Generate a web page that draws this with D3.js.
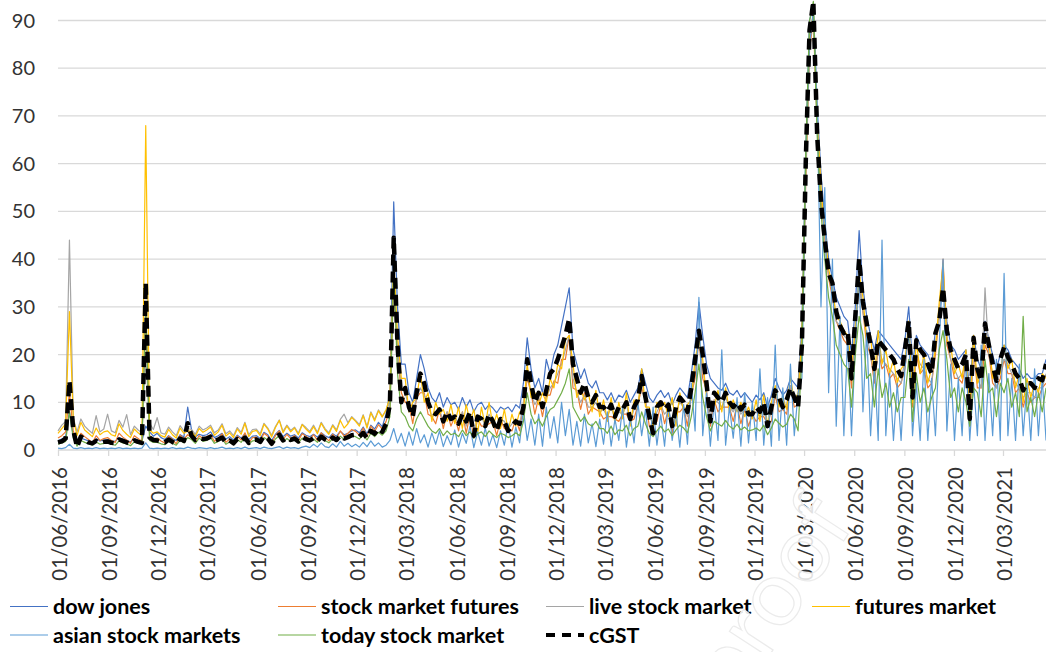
<!DOCTYPE html>
<html lang="en">
<head>
<meta charset="UTF-8">
<title>Search interest and cGST</title>
<script src="https://d3js.org/d3.v7.min.js"></script>
<style>
  body { margin: 0; background: #fff; }
  text { font-family: Lato, "Open Sans", sans-serif; }
</style>
</head>
<body>
<div id="chart"></div>
<script>
// weekly observations, first week = 01/06/2016
var startDate = "2016-06-01";
var stepDays = 7;

var tickLabels = ["01/06/2016","01/09/2016","01/12/2016","01/03/2017","01/06/2017","01/09/2017",
  "01/12/2017","01/03/2018","01/06/2018","01/09/2018","01/12/2018","01/03/2019","01/06/2019",
  "01/09/2019","01/12/2019","01/03/2020","01/06/2020","01/09/2020","01/12/2020","01/03/2021"];

var yTicks = [0, 10, 20, 30, 40, 50, 60, 70, 80, 90];

var dowJones = [
  2.0,2.3,2.8,8,3,1.8,2.5,2.2,1.9,1.7,2.4,1.9,2.1,
  2.2,1.9,1.8,2.6,2.3,2.0,1.7,2.4,2.1,1.9,5,3.8,2.9,
  3.5,2.6,2.2,3.0,2.4,2.0,3.2,2.7,9,4.2,2.8,3.3,3.0,
  3.2,3.8,2.6,3.0,3.5,2.3,2.8,2.1,3.1,2.5,3.4,2.2,2.9,
  3.0,2.4,3.7,3.2,2.0,3.3,4.1,2.8,3.5,2.9,3.2,2.5,3.6,
  3.1,2.8,3.3,2.7,3.6,3.0,2.6,3.4,2.9,3.9,3.2,3.5,4.0,
  4.2,3.6,4.8,3.4,5.2,4.4,5.8,4.9,7.5,12,52,30,18,
  18,12,10,15,20,17,13,11,10,12,9,11,9.5,
  10,8.5,11,9,10.5,8,9.5,10,8.5,9.5,8.8,7.8,9,
  8.5,9,8,9.5,8.8,14,23.5,17,13,15,12,19,16,
  20,22,26,30,34,21,18,15,17,14,13,14.5,12,
  12,10.5,12,10,11.5,11,12.5,10,11.5,13,17,14,11,
  10,11.5,12.5,11,12,9.5,11.5,13,12,11,16,22,31,
  24,18,15,14,13,12.5,14,12,11.5,12.5,11,12,11,
  10,11.5,10.5,12,9,11.5,15,13,11.5,12.5,15,14,13,
  26,62,90,93,72,58,48,40,36,32,30,28,27,
  20,30,46,34,28,24,21,25,24,23,22,21,20,
  19,23,30,18,24,22,21,20,18,25,28,35,27,
  22,21,19,20,21,12,24,19,17,27,23,20,17,
  20,22,21,19,18,17,15,16,15,15,16,16,19
];

var stockMarketFutures = [
  2.5,3.0,3.8,12,4.0,1.5,3.5,2.8,2.2,1.5,3.0,2.0,2.4,
  2.6,2.0,1.6,3.5,2.7,2.1,1.4,3.0,2.4,1.8,30,3.0,2.4,
  2.5,1.9,1.5,2.9,2.2,1.3,3.1,2.3,3.2,2.6,1.7,3.0,2.4,
  2.8,3.2,1.8,2.5,3.4,1.6,2.3,1.3,2.9,2.1,3.6,1.5,2.6,
  2.7,1.8,3.5,2.9,1.4,3.0,4.0,2.2,3.3,2.4,3.0,1.9,3.4,
  2.9,2.2,3.2,2.0,3.6,2.7,1.9,3.3,2.4,4.0,2.9,3.5,4.3,
  3.9,3.1,4.6,2.8,5.0,3.9,5.3,4.4,6.0,9,36,20,12,
  10,9.5,5.5,11,12,12,7.5,7,5.5,8.5,4.5,8,5,
  7,4,8,3.5,7.5,2.5,6.5,5,5,5.5,6,3,6.5,
  4.5,4.5,4,6.5,4,9.5,15,12,7.5,11,7,11.5,11.5,
  14.5,14,19,19,24,13,12.5,8.5,12,7.5,9,8.5,8,
  6.5,7,7,6.5,6,7.5,7.5,6,6.5,9.5,13,10.5,5,
  5.5,6,9.5,5.5,8.5,3.5,8,8,9,5,11.5,15,23,
  15,12.5,5,10.5,8,9,9,9,6,9.5,5.5,8.5,5,
  7.5,6,7,7,5.5,6,11.5,8,8.5,7.5,13.5,9,9.5,
  22,56,84,90,68,53,44,36,32,27,25,23,22,
  13,26,35,29,22,20,14,21,17,18,15,16,13,
  14,17,24,9,20,16,17,13,14,20,28,40,22,
  19,15,15,14,18,5,21,13,13,22,20,14,13,
  15,19,16,16,12,13,9,12,10,11,11,13,14
];

var liveStockMarket = [
  4.0,5.2,6.0,44,6.8,3.8,6.5,5.0,4.2,3.5,7.2,3.8,4.4,
  7.5,4.0,3.6,6.2,4.8,7.4,3.2,5.0,4.2,3.6,20,5.6,4.3,
  6.8,3.6,3.3,4.8,3.8,3.0,5.1,4.0,4.5,4.3,3.3,5.0,4.2,
  4.6,5.2,3.6,4.2,5.5,3.4,4.0,3.0,4.7,3.7,5.8,3.2,4.3,
  4.4,3.4,5.6,4.6,3.1,4.9,6.3,3.9,5.2,4.1,4.8,3.5,5.4,
  4.7,3.9,5.2,3.7,5.8,4.5,3.6,5.3,4.2,6.4,7.5,5.7,7.0,
  6.2,5.3,7.4,4.9,8.0,6.4,8.4,7.1,8.2,10,38,22,13,
  12,9,7.5,11,13,11.5,9.5,7,7.5,8.5,6,8,6.5,
  7,5.5,8,5,7.5,4,6.5,7,5,7.5,6,4.5,6.5,
  6,4.5,5.5,6.5,5.5,9.5,16,12,9.5,11,8.5,11,13,
  14,16,18,21,24,15,12,10,11.5,9,9,10,8,
  8.5,7,9,6.5,8,7.5,9.5,6,8.5,9.5,14.5,10,7,
  5.5,8,9.5,7.5,8.5,5.5,8,10,9,7,11.5,17,23,
  17,12,7,10.5,10,9,11,9,8,9.5,7.5,8.5,7,
  7.5,8,7,9,5.5,8,11.5,10,8.5,9.5,13.5,11,9.5,
  23,57,85,91,69,54,45,37,33,27,26,24,23,
  15,26,37,29,24,20,16,21,19,18,17,16,15,
  14,19,24,11,20,18,17,15,14,22,28,36,24,
  19,17,15,16,18,6.5,21,15,13,34,20,16,13,
  17,19,18,16,14,13,11,12,12,11,13,13,16
];

var futuresMarket = [
  3.5,4.5,5.5,29,6.5,3.0,5.8,4.2,3.5,2.8,4.6,3.2,3.8,
  4.0,3.2,2.9,5.5,4.1,3.3,2.6,4.4,3.6,3.0,68,4.2,3.5,
  3.8,3.0,2.7,4.3,3.2,2.5,4.6,3.5,4.0,3.9,2.8,4.5,3.7,
  4.2,4.8,3.1,3.8,5.2,2.9,3.6,2.6,4.4,3.3,5.6,2.8,3.9,
  4.1,3.0,5.4,4.4,2.7,4.7,6.2,3.6,5.0,3.8,4.6,3.2,5.3,
  4.4,3.6,4.9,3.4,5.6,4.2,3.3,5.1,3.9,6.2,4.6,5.5,6.8,
  6.0,5.0,7.2,4.6,7.8,6.1,8.2,6.9,8.5,11,40,24,15,
  15,8,10,11,16,10,12,6,10,7.5,8.5,6,9.5,
  5.5,9,4.5,9.5,6,8.5,3.5,9,5,10,5,7.5,4.5,
  8.5,4,7.5,5,8,8,18,11,12,9.5,12,10,15,
  13,18,17,23,24,18,11,13,10.5,12,8,12.5,7,
  10.5,6,11,5.5,10,6.5,12,5,10.5,8.5,17,9,9,
  4.5,10,8.5,10,7,11,5,12,8,9.5,10.5,19,23,
  19,11,10,9,12.5,8,13,8,10.5,8,10,7,9,
  6.5,10.5,6,11.5,5,10,13.5,9,11,8.5,15.5,10,12,
  24,58,86,92,70,55,46,38,34,28,27,25,24,
  18,25,37,32,23,24,15,25,18,21,16,19,14,
  17,18,27,10,23,16,20,14,17,21,31,39,23,
  22,16,18,15,21,8,24,14,16,24,23,15,16,
  16,22,17,19,13,16,10,15,11,14,12,16,15
];

var asianStockMarkets = [
  0.4,0.3,0.5,1.2,0.4,0.3,0.5,0.3,0.4,0.3,0.5,0.3,0.4,
  0.3,0.4,0.3,0.5,0.3,0.4,0.3,0.4,0.3,0.4,1.5,0.4,0.3,
  0.4,0.3,0.4,0.3,0.5,0.3,0.4,0.3,0.6,0.4,0.3,0.5,0.4,
  0.3,0.5,0.3,0.4,0.6,0.3,0.4,0.3,0.5,0.3,0.6,0.3,0.4,
  0.5,0.3,0.6,0.4,0.3,0.5,0.7,0.3,0.6,0.4,0.5,0.3,0.6,
  0.8,0.5,1.2,0.6,1.5,0.7,0.5,1.3,0.6,1.8,0.8,1.4,0.7,
  1.2,0.6,1.6,0.7,1.9,0.8,1.5,0.6,1.0,2.0,4.5,1.5,3.5,
  0.8,3.8,1.0,4.5,1.5,3.2,0.6,3.6,1.2,4.0,0.7,3.0,1.1,
  4.2,0.6,3.5,1.4,5.0,0.5,3.8,1.0,4.6,0.8,3.2,0.5,4.0,
  1.0,5.5,0.6,4.8,1.5,8.5,2.0,6.5,1.0,7.5,0.8,9,2.5,
  7,1.5,10,3,8.5,1.0,6,0.8,7.5,1.5,5.5,0.7,6.5,
  1.2,8,0.8,6.5,2,9,0.6,7,1.5,10,3,8.5,0.8,
  9,1,7.5,0.8,10,2,8,0.6,9.5,1.2,14,4,32,
  3,12,0.8,10,2,21,1,9,2.5,11,0.8,12,1.5,
  10,2,17,1,11,0.8,22,2,13,1,18,3,12,
  15,60,85,92,72,30,55,12,40,5,28,3,24,
  3,22,38,8,25,3,18,2,44,3,16,2,14,
  2,17,25,3,14,2,19,2,15,3,22,40,4,
  18,2,15,3,20,2,14,3,22,2,16,3,19,
  2,37,3,15,2,18,3,14,2,17,3,15,2
];

var todayStockMarket = [
  1.2,1.5,1.8,8,2.5,0.8,2.0,1.6,1.3,1.0,1.7,1.2,1.4,
  1.5,1.2,1.0,1.9,1.5,1.3,0.9,1.7,1.4,1.1,30,2.0,1.6,
  1.6,1.3,1.1,1.8,1.4,1.0,2.0,1.5,2.6,2.2,1.4,2.5,1.8,
  2.0,2.6,1.4,1.8,2.4,1.2,1.7,1.1,2.2,1.6,2.7,1.3,1.9,
  2.0,1.4,2.6,2.1,1.1,2.3,3.0,1.7,2.4,1.8,2.2,1.5,2.5,
  2.1,1.7,2.3,1.6,2.7,2.0,1.5,2.4,1.8,2.9,2.2,2.6,3.0,
  2.8,2.3,3.2,2.1,3.5,2.8,3.7,3.1,4.0,7,38,16,8,
  7,5,4,6.5,8,6.5,5,4,3.5,4.5,3,4,3.2,
  3.5,2.8,4.2,3,3.8,2.5,3.4,3.8,2.8,4,3.2,2.6,3.5,
  3.2,2.6,3,3.6,3,6,12,7.5,5.5,6.5,5,7,8.5,
  9,10.5,12,14,17,9,7.5,6,7,5.5,5,6,4.5,
  4.5,3.5,5,3.2,4.2,4,5.2,3,4.5,5,8,5.5,3.5,
  2.8,4,5,3.8,4.4,3,4.2,5.2,4.6,3.6,7,12,18,
  11,7,4,6,5.5,5,6.2,5,4.4,5.4,4.2,4.8,4,
  4.2,4.6,4,5.2,3.2,4.6,6.5,5.6,4.8,5.4,7.5,6.5,4,
  20,62,90,94,66,50,40,32,28,22,20,18,17,
  9,20,28,24,15,16,9,17,11,14,9,12,8,
  11,11,19,6,16,10,13,8,11,13,21,25,19,
  11,13,8,13,10,5,13,12,7,19,12,13,7,
  14,12,15,9,12,7,28,8,11,7,12,8,13
];

var cGST = [
  1.6,1.8,2.4,14.5,4.2,0.6,2.8,2.2,1.6,1.4,1.9,1.5,1.7,
  1.8,1.5,1.4,2.2,1.9,1.6,1.3,2.0,1.7,1.5,35,2.6,2.1,
  2.0,1.8,1.6,2.2,1.7,1.3,2.4,1.9,5.6,3.0,2.1,2.5,2.3,
  2.4,2.8,1.9,2.2,2.6,1.6,2.0,1.4,2.3,1.8,2.6,1.5,2.1,
  2.2,1.7,2.9,2.4,1.3,2.5,3.2,2.0,2.6,2.1,2.4,1.8,2.7,
  2.3,2.0,2.5,1.9,2.8,2.2,1.8,2.6,2.1,3.0,2.4,2.7,3.1,
  3.2,2.8,3.6,2.5,4.0,3.4,4.5,3.8,5.5,9.5,44.5,22,10,
  13,9,7,12,16,14,10,8,7.5,8.5,6,8,6.5,
  7,5.5,7.5,6,8,3,7,6.5,5,7.5,6,4,6.5,
  6,4,5,6,5.5,9,19,14,10,12,9,12.5,16,
  17,19,21.5,24,27.5,18,15,12,14,11,10,11.5,9,
  9,8,9.5,7,9,8.5,10,6.5,9,10.5,15.5,11,7,
  3.5,9,10,8.5,9.5,5,9,11,10,8,13,19,25,
  20,14,6,12,11,10,12,10,9,10,8.5,9.5,7.5,
  7.5,9,8,10,5,9,12.5,11,9,10.5,13,11,9,
  22,60,88,94,66,52,44,37,35,29,26,24.5,25,
  15,28,40,31,26.5,22,17,23,22,21,20,19,17,
  15.5,21,27,11,23,21,20,18,16,24.5,27,34,25,
  21,19,17,18,20,6.5,23.5,17,14.5,26.5,22,18,14.5,
  19,21.5,19.5,18,16,15,12.5,14,14,13,15,14.6,18
];

var seriesNames = ["dow jones", "stock market futures", "live stock market", "futures market",
  "asian stock markets", "today stock market", "cGST"];
var seriesColors = ["#4472C4", "#ED7D31", "#A5A5A5", "#FFC000", "#5B9BD5", "#70AD47", "#000000"];
var seriesValues = [dowJones, stockMarketFutures, liveStockMarket, futuresMarket,
  asianStockMarkets, todayStockMarket, cGST];

var width = 1046, height = 652;

var svg = d3.select("#chart").append("svg")
  .attr("width", width)
  .attr("height", height);

var parseDay = d3.timeParse("%d/%m/%Y");
var start = d3.timeParse("%Y-%m-%d")(startDate);
var dates = cGST.map(function(d, i) { return d3.timeDay.offset(start, i * stepDays); });
var tickDates = tickLabels.map(parseDay);

var x = d3.scaleTime()
  .domain([tickDates[0], tickDates[tickDates.length - 1]])
  .range([58, 1003]);

var y = d3.scaleLinear()
  .domain([0, 90])
  .range([450, 20.5]);

// gridlines
svg.append("g")
  .selectAll("line")
  .data(yTicks)
  .enter().append("line")
    .attr("x1", 58).attr("x2", width)
    .attr("y1", function(d) { return y(d); })
    .attr("y2", function(d) { return y(d); })
    .attr("stroke", "#D9D9D9")
    .attr("stroke-width", 1.3);

// y labels
svg.append("g")
  .selectAll("text")
  .data(yTicks)
  .enter().append("text")
    .attr("x", 35)
    .attr("y", function(d) { return y(d); })
    .attr("dy", "0.35em")
    .attr("text-anchor", "end")
    .attr("font-size", "20px")
    .attr("fill", "#333")
    .text(function(d) { return d; });

// x axis
var xAxis = svg.append("g")
  .attr("transform", "translate(0," + y(0) + ")")
  .call(d3.axisBottom(x)
    .tickValues(tickDates)
    .tickSize(6)
    .tickFormat(d3.timeFormat("%d/%m/%Y")));

xAxis.select(".domain").remove();
xAxis.selectAll(".tick line").attr("stroke", "#D9D9D9").attr("stroke-width", 1.3);
xAxis.selectAll(".tick text")
  .attr("font-family", "Lato, sans-serif")
  .attr("font-size", "20.5px")
  .attr("fill", "#333")
  .attr("transform", "translate(1,17)rotate(-90)")
  .attr("x", 0).attr("y", 0)
  .attr("dy", "0.35em")
  .style("text-anchor", "end");

// series lines
var line = d3.line()
  .x(function(d, i) { return x(dates[i]); })
  .y(function(d) { return y(d); });

svg.append("g")
  .selectAll("path")
  .data(seriesValues)
  .enter().append("path")
    .attr("fill", "none")
    .attr("stroke", function(d, i) { return seriesColors[i]; })
    .attr("stroke-width", function(d, i) { return i == 6 ? 4.5 : 1.2; })
    .attr("stroke-dasharray", function(d, i) { return i == 6 ? "11,6" : null; })
    .attr("stroke-linejoin", "round")
    .attr("d", line);

// legend
var legendPos = [[10, 606.5], [278, 606.5], [546, 606.5], [812, 606.5],
                 [10, 635], [278, 635], [546, 635]];

var legend = svg.append("g")
  .selectAll("g")
  .data(seriesNames)
  .enter().append("g")
    .attr("transform", function(d, i) { return "translate(" + legendPos[i][0] + "," + legendPos[i][1] + ")"; });

legend.append("line")
  .attr("x1", 0).attr("x2", 38)
  .attr("stroke", function(d, i) { return seriesColors[i]; })
  .attr("stroke-width", function(d, i) { return i == 6 ? 4 : 1.2; })
  .attr("stroke-dasharray", function(d, i) { return i == 6 ? "9,7" : null; });

legend.append("text")
  .attr("x", 43)
  .attr("dy", "0.35em")
  .attr("font-size", "21.5px")
  .attr("font-weight", "bold")
  .attr("fill", "#000")
  .text(function(d) { return d; });

// faint watermark of the source page, only its tail is inside the picture
svg.append("text")
  .attr("transform", "translate(856,522)rotate(-57)")
  .attr("text-anchor", "end")
  .attr("font-family", "Liberation Sans, sans-serif")
  .attr("font-size", "92px")
  .attr("fill", "#fff")
  .attr("fill-opacity", 0.85)
  .attr("stroke", "#ebebeb")
  .attr("stroke-width", 1.2)
  .text("Pre-proof");
</script>
</body>
</html>
